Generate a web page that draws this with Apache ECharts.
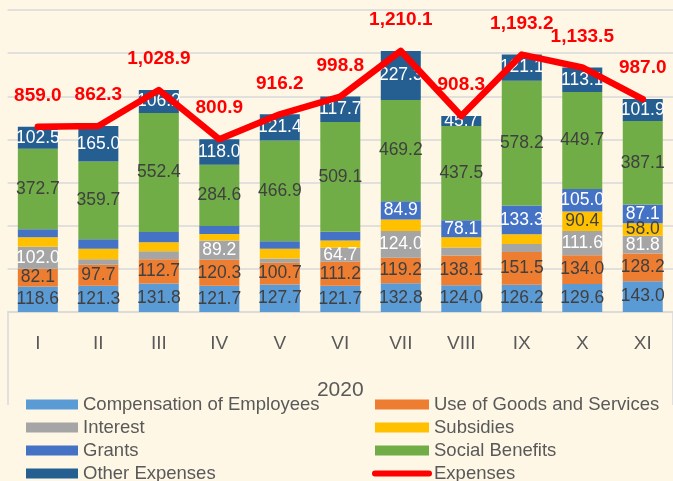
<!DOCTYPE html>
<html>
<head>
<meta charset="utf-8">
<script src="https://cdn.jsdelivr.net/npm/echarts@6/dist/echarts.min.js"></script>
<style>
html,body{margin:0;padding:0;background:#FEF7E6;}
#chart{width:673px;height:481px;}
</style>
</head>
<body>
<div id="chart"></div>
<script>
const categories = ['I','II','III','IV','V','VI','VII','VIII','IX','X','XI'];
const yearLabel = ['2020'];
const compensation = [118.6,121.3,131.8,121.7,127.7,121.7,132.8,124.0,126.2,129.6,143.0];
const goodsServices = [82.1,97.7,112.7,120.3,100.7,111.2,119.2,138.1,151.5,134.0,128.2];
const interest = [102.0,25.5,37.7,89.2,19.9,64.7,124.0,36.9,37.5,111.6,81.8];
const subsidies = [43.5,48.5,41.0,30.0,44.4,34.0,52.7,48.0,45.4,90.4,58.0];
const grants = [37.6,44.6,47.1,37.1,35.2,40.4,84.9,78.1,133.3,105.0,87.1];
const socialBenefits = [372.7,359.7,552.4,284.6,466.9,509.1,469.2,437.5,578.2,449.7,387.1];
const otherExpenses = [102.5,165.0,106.2,118.0,121.4,117.7,227.3,45.7,121.1,113.1,101.9];
const expenses = [859.0,862.3,1028.9,800.9,916.2,998.8,1210.1,908.3,1193.2,1133.5,987.0];
// which segments carry a visible value label in the reference
const interestLabelled = [1,0,0,1,0,1,1,0,0,1,1];
const subsidiesLabelled = [0,0,0,0,0,0,0,0,0,1,1];
const grantsLabelled = [0,0,0,0,0,0,1,1,1,1,1];

const FONT = 'Liberation Sans';
const fmt1 = v => Number(v).toFixed(1);
const fmtK = v => Number(v).toLocaleString('en-US',{minimumFractionDigits:1,maximumFractionDigits:1});

function barSeries(name, values, color, labelColor, shownFlags){
  return {
    name: name,
    type: 'bar',
    stack: 'total',
    barWidth: 40,
    itemStyle: {color: color},
    label: {
      show: true, position: 'inside', color: labelColor,
      fontFamily: FONT, fontSize: 17.5,
      formatter: p => fmt1(p.value)
    },
    data: values.map((v,i) => shownFlags && !shownFlags[i] ? {value: v, label:{show:false}} : v)
  };
}

const legendText = {color: '#595959', fontSize: 18.5, fontFamily: FONT, lineHeight: 18};
const chart = echarts.init(document.getElementById('chart'), null, {renderer:'canvas'});
chart.setOption({
  backgroundColor: '#FEF7E6',
  animation: false,
  textStyle: {fontFamily: FONT},
  grid: {left: 7.6, width: 667.7, top: 10, height: 302, containLabel: false},
  xAxis: [{
    type: 'category', data: categories, position: 'bottom',
    axisLine: {show: true, lineStyle: {color: '#D9D9D9', width: 1.5}},
    axisTick: {show: false},
    axisLabel: {color: '#595959', fontSize: 19, fontFamily: FONT, margin: 22}
  },{
    type: 'category', data: yearLabel, position: 'bottom', gridIndex: 0,
    axisLine: {show: false},
    axisTick: {show: true, length: 93, alignWithLabel: false, lineStyle: {color: '#D9D9D9', width: 1.5}},
    axisLabel: {color: '#595959', fontSize: 21, fontFamily: FONT, margin: 68}
  }],
  yAxis: {
    type: 'value', min: 0, max: 1400, interval: 200,
    axisLabel: {show: false}, axisLine: {show: false}, axisTick: {show: false},
    splitLine: {lineStyle: {color: '#D9D9D9', width: 1.5}}
  },
  legend: [{
    orient: 'vertical', left: 26, top: 395, height: 120, padding: 0,
    itemWidth: 52, itemHeight: 10, itemGap: 4.0,
    textStyle: legendText,
    data: [
      {name:'Compensation of Employees', icon:'rect'},
      {name:'Interest', icon:'rect'},
      {name:'Grants', icon:'rect'},
      {name:'Other Expenses', icon:'rect'}
    ]
  },{
    orient: 'vertical', left: 372, top: 395, height: 120, padding: 0,
    itemWidth: 54, itemHeight: 10, itemGap: 4.0,
    textStyle: legendText,
    data: [
      {name:'Use of Goods and Services', icon:'rect'},
      {name:'Subsidies', icon:'rect'},
      {name:'Social Benefits', icon:'rect'},
      {name:'Expenses', itemStyle: {opacity: 0}, lineStyle: {width: 6, cap: 'round', color: '#FF0000'}}
    ]
  }],
  series: [
    barSeries('Compensation of Employees', compensation, '#5B9BD5', '#404040'),
    barSeries('Use of Goods and Services', goodsServices, '#ED7D31', '#404040'),
    barSeries('Interest', interest, '#A5A5A5', '#FFFFFF', interestLabelled),
    barSeries('Subsidies', subsidies, '#FFC000', '#404040', subsidiesLabelled),
    barSeries('Grants', grants, '#4472C4', '#FFFFFF', grantsLabelled),
    barSeries('Social Benefits', socialBenefits, '#70AD47', '#404040'),
    barSeries('Other Expenses', otherExpenses, '#255E91', '#FFFFFF'),
    {
      name: 'Expenses', type: 'line', data: expenses, z: 5,
      symbol: 'circle', symbolSize: 1, showSymbol: true,
      lineStyle: {color: '#FF0000', width: 6.5, cap: 'round', join: 'round'},
      itemStyle: {color: '#FF0000'},
      label: {
        show: true, position: 'top', distance: 21,
        color: '#FF0000', fontWeight: 'bold', fontSize: 19, fontFamily: FONT,
        formatter: p => fmtK(p.value)
      }
    }
  ]
});
</script>
</body>
</html>
